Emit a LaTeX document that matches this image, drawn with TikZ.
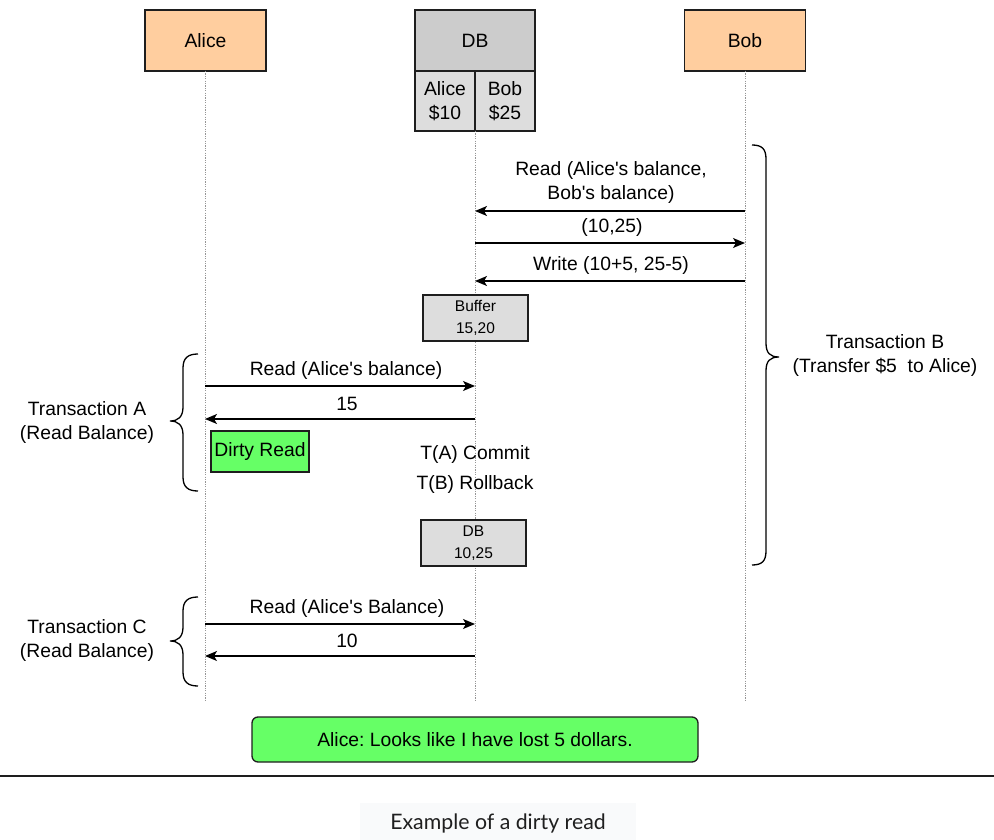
\documentclass[tikz,border=0pt]{standalone}
\usepackage{fontspec}
\setmainfont{Liberation Sans}
\newfontfamily\captionfont{Lato}
\usetikzlibrary{arrows.meta}
\definecolor{peach}{RGB}{255,206,159}
\definecolor{dbgray}{RGB}{204,204,204}
\definecolor{cellgray}{RGB}{221,221,221}
\definecolor{notegreen}{RGB}{102,255,102}
\definecolor{lifegray}{RGB}{150,150,150}
\definecolor{capbg}{RGB}{249,250,251}
\definecolor{inkline}{RGB}{30,30,30}
\newcommand{\apos}{\textquotesingle}
\frenchspacing

\begin{document}
\begin{tikzpicture}[x=1pt,y=-1pt,
  font=\fontsize{19.3}{24}\selectfont,
  box/.style={draw=inkline, line width=1.3pt, inner sep=0pt, align=center},
  actor/.style={box, fill=peach, minimum width=121pt, minimum height=61pt},
  dbhead/.style={box, fill=dbgray, minimum width=120pt, minimum height=61pt},
  dbcell/.style={box, fill=cellgray, minimum width=60pt, minimum height=60pt},
  smallbox/.style={box, fill=cellgray, minimum width=105pt, minimum height=46pt,
    font=\fontsize{15.5}{22}\selectfont},
  greenbox/.style={box, fill=notegreen},
  lifeline/.style={draw=lifegray, line width=0.9pt, dash pattern=on 1.2pt off 1.2pt},
  msg/.style={draw=black, line width=1.3pt, -{Stealth[length=12pt,width=10pt,inset=3pt]}},
  lbl/.style={inner sep=0pt, align=center},
  bracepath/.style={draw=black, line width=1.3pt},
]
\useasboundingbox (0,0) rectangle (994,840);

% participants
\node[actor] (alice) at (205.5,40.5) {Alice};
\node[actor] (bob) at (745,40.5) {Bob};
\node[dbhead] (db) at (475,40.5) {DB};
\node[dbcell] (dbA) at (445,101) {Alice\\\$10};
\node[dbcell] (dbB) at (505,101) {Bob\\\$25};

% lifeline end points
\coordinate (aliceEnd) at (205,702);
\coordinate (dbEnd) at (475,702);
\coordinate (bobEnd) at (745,702);
\draw[lifeline] (205,71) -- (aliceEnd);
\draw[lifeline] (475,131) -- (dbEnd);
\draw[lifeline] (745,71) -- (bobEnd);

% message anchors on the lifelines
\coordinate (b1) at (745,211); \coordinate (d1) at (475,211);
\coordinate (b2) at (745,243); \coordinate (d2) at (475,243);
\coordinate (b3) at (745,281); \coordinate (d3) at (475,281);
\coordinate (a4) at (205,386); \coordinate (d4) at (475,386);
\coordinate (a5) at (205,419); \coordinate (d5) at (475,419);
\coordinate (a6) at (205,624); \coordinate (d6) at (475,624);
\coordinate (a7) at (205,656); \coordinate (d7) at (475,656);

% transaction B
\draw[msg] (b1) -- (d1);
\node[lbl] (m1) at (611,183) {Read (Alice\apos s balance,\\Bob\apos s balance)};
\draw[msg] (d2) -- (b2);
\node[lbl] (m2) at (612,228) {(10,25)};
\draw[msg] (b3) -- (d3);
\node[lbl] (m3) at (611,266) {Write (10+5, 25-5)};
\node[smallbox] (buffer) at (475.5,318) {Buffer\\15,20};

% transaction A
\draw[msg] (a4) -- (d4);
\node[lbl] (m4) at (346,371) {Read (Alice\apos s balance)};
\draw[msg] (d5) -- (a5);
\node[lbl] (m5) at (347,404) {15};
\node[greenbox, minimum width=98pt, minimum height=41pt] (dirty) at (260,451.5) {Dirty Read};

\node[lbl] (commit) at (475,455) {T(A) Commit};
\node[lbl] (rollback) at (475,485) {T(B) Rollback};
\node[smallbox] (dbafter) at (473.5,543) {DB\\10,25};

% transaction C
\draw[msg] (a6) -- (d6);
\node[lbl] (m6) at (347,609) {Read (Alice\apos s Balance)};
\draw[msg] (d7) -- (a7);
\node[lbl] (m7) at (347,641) {10};

% braces
\draw[bracepath] (198,354) .. controls (188,354) and (183,358) .. (183,368) -- (183,407)
  .. controls (183,417) and (178,421) .. (170,421)
  .. controls (178,421) and (183,425) .. (183,435) -- (183,477)
  .. controls (183,487) and (188,491) .. (198,491);
\node[lbl] (txA) at (87,423) {Transaction A\\(Read Balance)};

\draw[bracepath] (198,597) .. controls (188,597) and (183,601) .. (183,611) -- (183,627)
  .. controls (183,637) and (178,641) .. (170,641)
  .. controls (178,641) and (183,645) .. (183,655) -- (183,672)
  .. controls (183,682) and (188,686) .. (198,686);
\node[lbl] (txC) at (87,641) {Transaction C\\(Read Balance)};

\draw[bracepath] (752,145) .. controls (762,145) and (766,149) .. (766,159) -- (766,343)
  .. controls (766,353) and (770,357) .. (779,357)
  .. controls (770,357) and (766,361) .. (766,371) -- (766,551)
  .. controls (766,561) and (762,565) .. (752,565);
\node[lbl] (txB) at (885,356) {Transaction B\\(Transfer \$5\ \ to Alice)};

% conclusion
\node[greenbox, rounded corners=6pt, minimum width=446pt, minimum height=45pt] (note) at (475,739.5)
  {Alice: Looks like I have lost 5 dollars.};

% separator and caption
\coordinate (ruleL) at (0,776);
\coordinate (ruleR) at (994,776);
\draw[draw=inkline, line width=1.3pt] (ruleL) -- (ruleR);
\fill[capbg] (360,803) rectangle (636,840);
\node[lbl, font=\captionfont\fontsize{21.3}{24}\selectfont, text=black!88] (caption) at (498,823) {Example of a dirty read};
\end{tikzpicture}
\end{document}
